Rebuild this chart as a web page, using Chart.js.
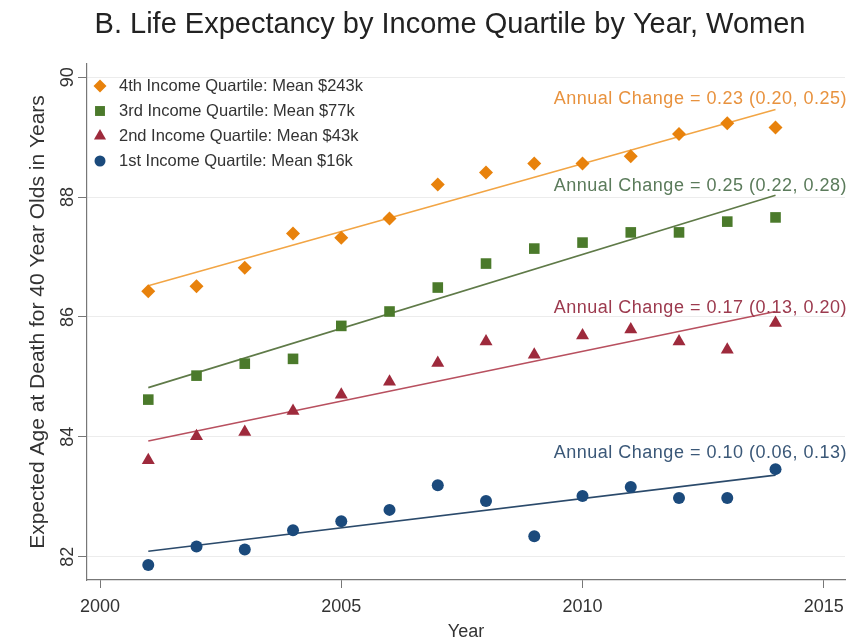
<!DOCTYPE html>
<html>
<head>
<meta charset="utf-8">
<script src="https://cdn.jsdelivr.net/npm/chart.js@4.4.1/dist/chart.umd.min.js"></script>
<style>
  html, body { margin: 0; padding: 0; background: #fff; }
  #wrap { width: 859px; height: 643px; }
</style>
</head>
<body>
<div id="wrap"><canvas id="chart"></canvas></div>
<script>
// Life expectancy at 40, women, by income quartile
const years = [2001, 2002, 2003, 2004, 2005, 2006, 2007, 2008, 2009, 2010, 2011, 2012, 2013, 2014];
const q4Values = [86.43, 86.51, 86.82, 87.39, 87.32, 87.64, 88.21, 88.41, 88.56, 88.56, 88.68, 89.05, 89.23, 89.16];
const q3Values = [84.62, 85.02, 85.22, 85.30, 85.85, 86.09, 86.49, 86.89, 87.14, 87.24, 87.41, 87.41, 87.59, 87.66];
const q2Values = [83.61, 84.01, 84.08, 84.43, 84.70, 84.92, 85.23, 85.59, 85.37, 85.69, 85.79, 85.59, 85.45, 85.90];
const q1Values = [81.86, 82.17, 82.12, 82.44, 82.59, 82.78, 83.19, 82.93, 82.34, 83.01, 83.16, 82.98, 82.98, 83.46];

// fitted trend lines: value at first and last year
const fitYears = [2001, 2014];
const q4Fit = [86.52, 89.46];
const q3Fit = [84.82, 88.03];
const q2Fit = [83.93, 86.09];
const q1Fit = [82.09, 83.36];

const chartTitle = 'B. Life Expectancy by Income Quartile by Year, Women';
const seriesLabels = [
  '4th Income Quartile: Mean $243k',
  '3rd Income Quartile: Mean $77k',
  '2nd Income Quartile: Mean $43k',
  '1st Income Quartile: Mean $16k'
];
const changeNotes = [
  'Annual Change = 0.23 (0.20, 0.25)',
  'Annual Change = 0.25 (0.22, 0.28)',
  'Annual Change = 0.17 (0.13, 0.20)',
  'Annual Change = 0.10 (0.06, 0.13)'
];
const noteLevels = [89.63, 88.19, 86.15, 83.73];

const xTicks = [2000, 2005, 2010, 2015];
const yTicks = [82, 84, 86, 88, 90];

const FONT = '"Liberation Sans", Arial, Helvetica, sans-serif';
const markerColors = ['#E8820C', '#4B7A2B', '#9E2A3C', '#1B4A7C'];
const lineColors = ['#F2A545', '#5F7A48', '#B8505F', '#2B4A6B'];
const noteColors = ['#E8923E', '#5B7B5B', '#9C3A4E', '#3B5878'];
const markerStyles = ['rectRot', 'rect', 'triangle', 'circle'];
const markerSizes = [7, 7.5, 7.5, 6];

const seriesValues = [q4Values, q3Values, q2Values, q1Values];
const seriesFits = [q4Fit, q3Fit, q2Fit, q1Fit];

const datasets = [];
seriesValues.forEach((vals, i) => {
  datasets.push({
    type: 'scatter',
    label: seriesLabels[i],
    data: years.map((yr, k) => ({ x: yr, y: vals[k] })),
    pointStyle: markerStyles[i],
    pointRadius: markerSizes[i],
    backgroundColor: markerColors[i],
    borderColor: markerColors[i],
    borderWidth: 0
  });
  datasets.push({
    type: 'line',
    label: 'fit ' + i,
    data: fitYears.map((yr, k) => ({ x: yr, y: seriesFits[i][k] })),
    borderColor: lineColors[i],
    borderWidth: 1.6,
    pointRadius: 0,
    fill: false
  });
});

// title, legend in the upper-left corner and the "Annual Change" notes
const overlayPlugin = {
  id: 'overlay',
  afterDatasetsDraw(chart) {
    const { ctx, chartArea, scales: { y } } = chart;
    ctx.save();

    ctx.font = '29px ' + FONT;
    ctx.fillStyle = '#222';
    ctx.textAlign = 'center';
    ctx.textBaseline = 'middle';
    ctx.fillText(chartTitle, 450, 25);

    ctx.font = '18px ' + FONT;
    ctx.textAlign = 'right';
    ctx.letterSpacing = '0.5px';
    changeNotes.forEach((txt, i) => {
      ctx.fillStyle = noteColors[i];
      ctx.fillText(txt, chartArea.right + 2, y.getPixelForValue(noteLevels[i]));
    });
    ctx.letterSpacing = '0px';

    ctx.font = '16.5px ' + FONT;
    ctx.textAlign = 'left';
    seriesLabels.forEach((txt, i) => {
      const rowY = chartArea.top + 22 + i * 25;
      const mx = chartArea.left + 13;
      ctx.fillStyle = markerColors[i];
      Chart.helpers.drawPoint(ctx, { pointStyle: markerStyles[i], radius: markerSizes[i] - 0.5, rotation: 0, borderWidth: 0 }, mx, rowY);
      ctx.fillStyle = '#333';
      ctx.fillText(txt, chartArea.left + 32, rowY);
    });

    ctx.restore();
  }
};

new Chart(document.getElementById('chart'), {
  data: { datasets },
  plugins: [overlayPlugin],
  options: {
    responsive: true,
    maintainAspectRatio: false,
    animation: false,
    layout: { padding: { left: 14, right: 14, top: 64, bottom: 0 } },
    plugins: {
      legend: { display: false },
      tooltip: { enabled: false },
      title: { display: false }
    },
    scales: {
      x: {
        type: 'linear',
        min: 1999.73,
        max: 2015.44,
        afterBuildTicks: s => { s.ticks = xTicks.map(v => ({ value: v })); },
        afterFit: s => { s.height = 63; },
        grid: { drawOnChartArea: false, tickLength: 8, tickColor: '#777' },
        border: { color: '#777', width: 1.2 },
        ticks: {
          color: '#333',
          font: { family: FONT, size: 18 },
          padding: 8,
          maxRotation: 0,
          callback: v => String(v)
        },
        title: {
          display: true,
          text: 'Year',
          color: '#333',
          font: { family: FONT, size: 18 },
          padding: { top: 0, bottom: 0 }
        }
      },
      y: {
        type: 'linear',
        min: 81.61,
        max: 90.22,
        afterBuildTicks: s => { s.ticks = yTicks.map(v => ({ value: v })); },
        afterFit: s => { s.width = 73; },
        grid: { color: '#ececec', tickLength: 9, tickColor: '#777' },
        border: { color: '#777', width: 1.2 },
        ticks: {
          color: '#333',
          font: { family: FONT, size: 18 },
          padding: 0,
          minRotation: 90,
          maxRotation: 90,
          crossAlign: 'center',
          callback: v => String(v)
        },
        title: {
          display: true,
          text: 'Expected Age at Death for 40 Year Olds in Years',
          color: '#333',
          font: { family: FONT, size: 21 },
          padding: { top: 12, bottom: 0 }
        }
      }
    }
  }
});
</script>
</body>
</html>
